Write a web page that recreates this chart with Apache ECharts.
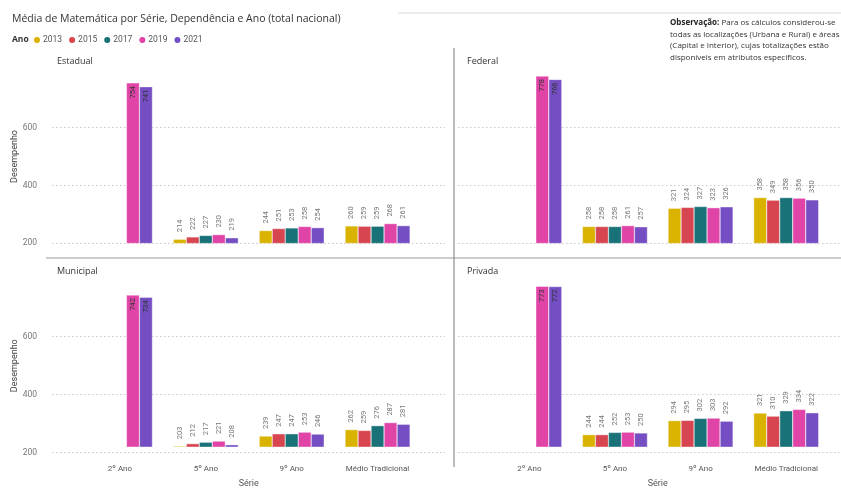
<!DOCTYPE html>
<html>
<head>
<meta charset="utf-8">
<script src="https://cdn.jsdelivr.net/npm/echarts@6/dist/echarts.min.js"></script>
<style>
html,body{margin:0;padding:0;background:#fff;}
#chart{width:841px;height:489px;}
</style>
</head>
<body>
<div id="chart"></div>
<script>
// ---- data ----
const years = ['2013', '2015', '2017', '2019', '2021'];
const categories = ['2º Ano', '5º Ano', '9º Ano', 'Médio Tradicional'];
const panelNames = ['Estadual', 'Federal', 'Municipal', 'Privada'];
const yTicks = [200, 400, 600];
// values per year (rows) and category (columns)
const estadual = [
  [null, 214, 244, 260],
  [null, 222, 251, 259],
  [null, 227, 253, 259],
  [754, 230, 258, 268],
  [741, 219, 254, 261]
];
const federal = [
  [null, 258, 321, 358],
  [null, 258, 324, 349],
  [null, 258, 327, 358],
  [778, 261, 323, 356],
  [766, 257, 326, 350]
];
const municipal = [
  [null, 203, 239, 262],
  [null, 212, 247, 259],
  [null, 217, 247, 276],
  [742, 221, 253, 287],
  [734, 208, 246, 281]
];
const privada = [
  [null, 244, 294, 321],
  [null, 244, 295, 310],
  [null, 252, 302, 329],
  [773, 253, 303, 334],
  [772, 250, 292, 322]
];
const panelData = [estadual, federal, municipal, privada];

// ---- styles / layout ----
const colors = ['#D9B300', '#D64550', '#197278', '#E044A7', '#744EC2'];
const font = 'Roboto, "Noto Sans", sans-serif';
const W = 841, H = 489;
const panelLayout = [
  {bgL: 52, bgR: 445, barL: 77, barR: 420.5, top: 69.6, bottom: 243.3, isLeft: true, isBottom: false, tx: 57, ty: 57},
  {bgL: 458, bgR: 841, barL: 486.5, barR: 829, top: 69.6, bottom: 243.3, isLeft: false, isBottom: false, tx: 467, ty: 57},
  {bgL: 52, bgR: 445, barL: 77, barR: 420.5, top: 278.7, bottom: 452.7, isLeft: true, isBottom: true, tx: 57, ty: 267},
  {bgL: 458, bgR: 841, barL: 486.5, barR: 829, top: 278.7, bottom: 452.7, isLeft: false, isBottom: true, tx: 467, ty: 267}
];
const yMin = 200, yMax = 800, yInt = 200;

const grid = [], xAxis = [], yAxis = [], series = [];
const titles = [
  {text: 'Média de Matemática por Série, Dependência e Ano (total nacional)', left: 12, top: 14, padding: 0,
   textStyle: {fontFamily: '"Open Sans", sans-serif', fontSize: 10.5, fontWeight: 'normal', color: '#333'}},
  {text: 'Ano', left: 12, top: 35, padding: 0, textStyle: {fontFamily: '"Open Sans", sans-serif', fontSize: 8.5, fontWeight: 'bold', color: '#333'}},
  {text: '{b|Observação:} Para os cálculos considerou-se\ntodas as localizações (Urbana e Rural) e áreas\n(Capital e Interior), cujas totalizações estão\ndisponíveis em atributos específicos.',
   left: 670, top: 17, padding: 0,
   textStyle: {fontFamily: '"Open Sans", sans-serif', fontSize: 8, fontWeight: 'normal', color: '#333', lineHeight: 11.5,
     rich: {b: {fontFamily: '"Open Sans", sans-serif', fontSize: 8, fontWeight: 'bold', color: '#222', lineHeight: 11.5}}}}
];

panelLayout.forEach((L, p) => {
  const bgIdx = 2 * p, barIdx = 2 * p + 1;
  grid.push({left: L.bgL, right: W - L.bgR, top: L.top, bottom: H - L.bottom, containLabel: false});
  grid.push({left: L.barL, right: W - L.barR, top: L.top, bottom: H - L.bottom, containLabel: false});
  // background grid axes (gridlines + y labels)
  xAxis.push({gridIndex: bgIdx, type: 'value', min: 0, max: 1, show: false});
  yAxis.push({
    gridIndex: bgIdx, type: 'value', min: yMin, max: yMax, interval: yInt,
    axisLine: {show: false}, axisTick: {show: false},
    axisLabel: {show: L.isLeft, margin: 15, fontFamily: font, fontSize: 8.5, color: '#777',
      formatter: v => (yTicks.indexOf(v) >= 0 ? String(v) : '')},
    splitLine: {show: true, lineStyle: {type: [1.5, 2.5], width: 1, color: ['#c8c8c8', '#c8c8c8', '#c8c8c8', 'rgba(0,0,0,0)']}},
    name: L.isLeft ? 'Desempenho' : '', nameLocation: 'middle', nameGap: 30, nameRotate: 90,
    nameTextStyle: {fontFamily: font, fontSize: 9, color: '#444'}
  });
  // bar grid axes
  xAxis.push({
    gridIndex: barIdx, type: 'category', data: categories,
    axisLine: {show: false}, axisTick: {show: false},
    axisLabel: {show: L.isBottom, margin: 18, fontFamily: font, fontSize: 8, color: '#555', interval: 0},
    name: L.isBottom ? 'Série' : '', nameLocation: 'middle', nameGap: 32,
    nameTextStyle: {fontFamily: font, fontSize: 9, color: '#555'}
  });
  yAxis.push({gridIndex: barIdx, type: 'value', min: yMin, max: yMax, interval: yInt, show: false, splitLine: {show: false}});
  titles.push({text: panelNames[p], left: L.tx, top: L.ty, padding: 0,
    textStyle: {fontFamily: '"Open Sans", sans-serif', fontSize: 9, fontWeight: 'normal', color: '#333'}});

  years.forEach((yr, k) => {
    series.push({
      type: 'bar', name: yr, xAxisIndex: barIdx, yAxisIndex: barIdx,
      barWidth: 13, barGap: '0%',
      itemStyle: {color: colors[k], borderColor: '#fff', borderWidth: 0.4},
      data: panelData[p][k].map(v => {
        if (v === null) return null;
        const inside = v > 600;
        return {
          value: v,
          label: inside
            ? {show: true, position: 'insideTop', rotate: 90, align: 'right', verticalAlign: 'middle', distance: 3, color: '#333'}
            : {show: true, position: 'top', rotate: 90, align: 'left', verticalAlign: 'middle', distance: 7, color: '#777'}
        };
      }),
      label: {show: true, fontFamily: font, fontSize: 7.5, formatter: '{c}'},
      emphasis: {disabled: true},
      animation: false
    });
  });
});

const chart = echarts.init(document.getElementById('chart'), null, {renderer: 'canvas'});
chart.setOption({
  backgroundColor: '#fff',
  animation: false,
  title: titles,
  legend: {
    data: years, left: 32, top: 35, padding: 0, icon: 'circle', itemWidth: 8, itemHeight: 8, itemGap: 5,
    textStyle: {fontFamily: font, fontSize: 8.5, color: '#555', padding: [0, 0, 0, -3]},
    selectedMode: false
  },
  grid: grid,
  xAxis: xAxis,
  yAxis: yAxis,
  series: series,
  graphic: [
    {type: 'line', shape: {x1: 398, y1: 13, x2: 841, y2: 13}, style: {stroke: '#ececec', lineWidth: 2}, silent: true},
    {type: 'line', shape: {x1: 454, y1: 48, x2: 454, y2: 467}, style: {stroke: '#777', lineWidth: 1}, silent: true},
    {type: 'line', shape: {x1: 46, y1: 258, x2: 841, y2: 258}, style: {stroke: '#999', lineWidth: 1}, silent: true}
  ]
});
</script>
</body>
</html>
